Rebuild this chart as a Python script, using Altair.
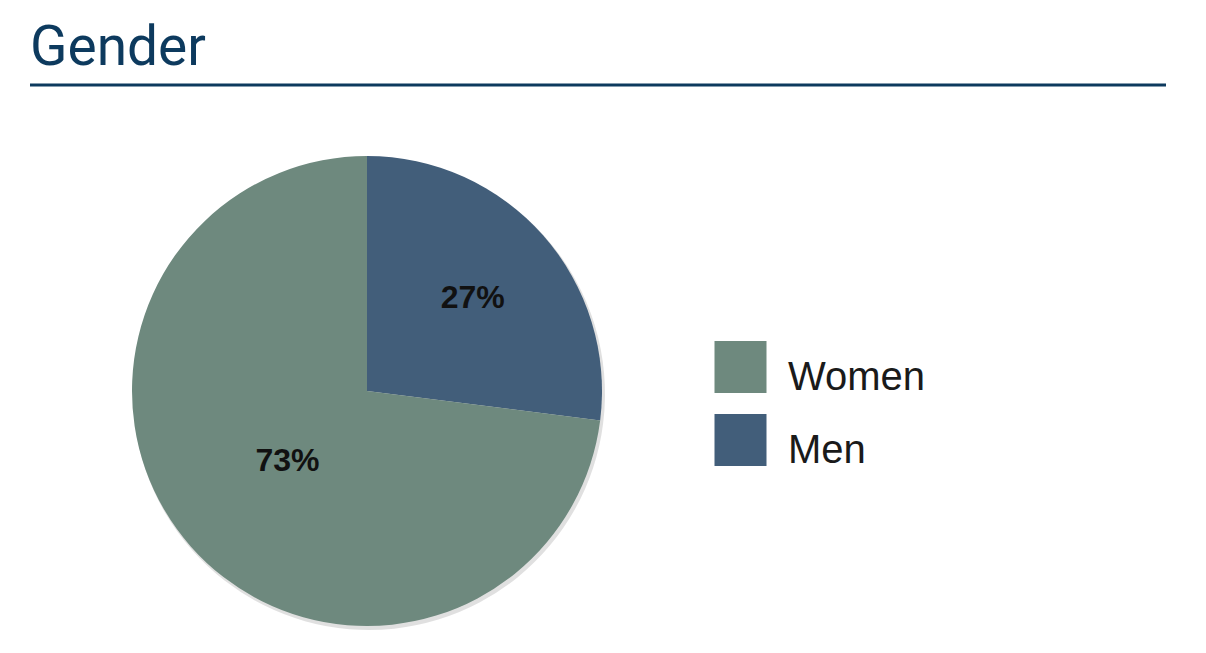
import altair as alt
import pandas as pd

categories = ["Men", "Women"]
values = [27, 73]
labels = ["27%", "73%"]
order = [0, 1]
legend_order = ["Women", "Men"]
colors = {"Women": "#6e897e", "Men": "#425e7a"}

df = pd.DataFrame({"cat": categories, "value": values, "label": labels, "ord": order})

CX, CY, R = 359, 383, 235

color_scale = alt.Scale(domain=legend_order, range=[colors[c] for c in legend_order])

base = alt.Chart(df).encode(
    theta=alt.Theta("value:Q", stack=True),
    order=alt.Order("ord:Q"),
)

shadow = base.mark_arc(color="#000000", opacity=0.12).encode(
    x=alt.value(CX + 2), y=alt.value(CY + 3), radius=alt.value(R + 1),
    detail="cat:N",
)

pie = base.mark_arc(stroke=None).encode(
    x=alt.value(CX), y=alt.value(CY), radius=alt.value(R),
    color=alt.Color("cat:N", scale=color_scale, legend=None),
)

text = alt.Chart(df).transform_stack(
    stack="value", groupby=[], as_=["v0", "v1"], sort=[alt.SortField("ord")]
).transform_calculate(
    mid="(datum.v0 + datum.v1) / 2",
    lr="datum.cat == 'Men' ? 141 : 106",
).mark_text(
    font="Liberation Sans", fontWeight="bold", fontSize=32, color="#111111",
    align="center", baseline="middle",
).encode(
    theta=alt.Theta("mid:Q", stack=None),
    x=alt.value(CX), y=alt.value(CY),
    radius=alt.Radius("lr:Q", scale=None),
    text="label:N",
)

# legend drawn as marks
leg_y = alt.Y("cat:N", scale=alt.Scale(type="point", padding=0, domain=legend_order, range=[359, 432]), axis=None)
leg_sq = alt.Chart(df).mark_square(size=2704, opacity=1, strokeWidth=0).encode(
    x=alt.value(732.5), y=leg_y,
    color=alt.Color("cat:N", scale=color_scale, legend=None),
)
leg_txt = alt.Chart(df).mark_text(
    font="Liberation Sans", fontSize=40, color="#1a1a1a", align="left",
    baseline="alphabetic", dy=23,
).encode(x=alt.value(780), y=leg_y, text="cat:N")

title_df = pd.DataFrame({"t": ["Gender"]})
title = alt.Chart(title_df).mark_text(
    font="Roboto", fontSize=55, color="#0d3a5e", align="left", baseline="alphabetic"
).encode(x=alt.value(22), y=alt.value(57), text="t:N")

rule = alt.Chart(title_df).mark_rule(color="#0d3a5e", strokeWidth=3).encode(
    x=alt.value(22), x2=alt.value(1158), y=alt.value(77)
)

chart = alt.layer(shadow, pie, text, leg_sq, leg_txt, title, rule).properties(
    width=1190, height=637, padding=0, autosize=alt.AutoSizeParams(type="none")
).configure_view(stroke=None)

chart.save("out.html", embed_options={"renderer": "svg", "actions": False})
